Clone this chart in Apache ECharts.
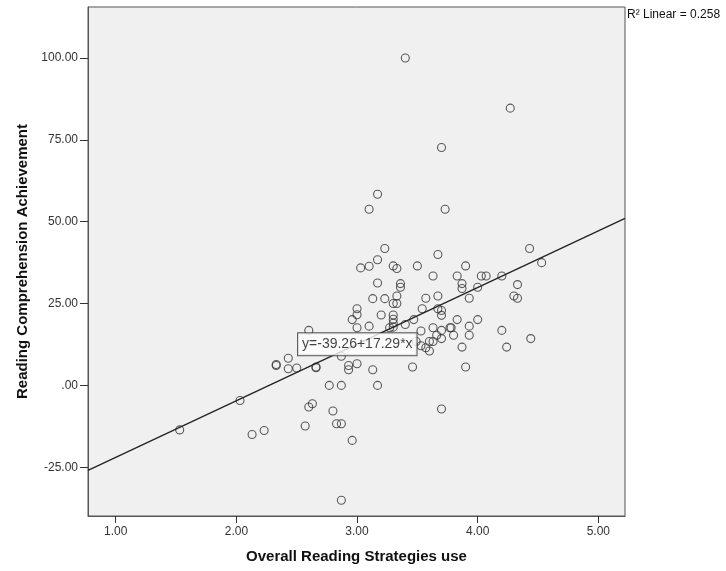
<!DOCTYPE html>
<html>
<head>
<meta charset="utf-8">
<script src="https://cdn.jsdelivr.net/npm/echarts@6/dist/echarts.min.js"></script>
<style>html,body{margin:0;padding:0;background:#fff}#chart{width:726px;height:571px}</style>
</head>
<body>
<div id="chart"></div>
<script>
// Overall Reading Strategies use (x) and Reading Comprehension Achievement (y)
const strategyUse = [
  3.40, 4.27, 3.70, 3.17, 3.10, 3.73,
  3.23, 3.03, 3.10, 3.17, 3.30, 3.33, 3.50, 3.67, 3.90, 3.63, 3.83, 4.03, 4.07, 4.20,
  4.43, 4.53, 3.17, 3.36, 3.36, 3.87, 3.87, 4.33, 4.00, 4.30, 4.33, 3.33, 3.13, 3.23,
  3.30, 3.33, 3.57, 3.67, 3.93, 3.00, 3.00, 2.96, 3.20, 3.30, 3.30, 3.54, 3.67, 3.70,
  3.70, 3.40, 3.47, 3.30, 3.27, 3.30, 3.10, 3.00, 2.60, 3.53, 3.63, 3.77, 3.78, 3.83,
  4.00, 3.93, 3.93, 3.80, 3.70, 3.66, 3.70, 3.63, 3.60, 3.57, 3.60, 3.53, 3.49, 4.20,
  4.44, 4.24, 3.87, 3.90, 3.46, 3.70, 3.13, 3.17, 3.00, 2.93, 2.93, 2.87, 2.77, 2.87,
  2.66, 2.63, 2.60, 2.80, 2.57, 2.83, 2.87,
  2.43, 2.33, 2.33, 2.43, 2.50, 2.66, 2.03, 1.53, 2.13, 2.23, 2.96, 2.87
];
const achievement = [
  100.0, 84.7, 72.7, 58.4, 53.8, 53.8,
  41.8, 35.9, 36.4, 38.4, 36.5, 35.7, 36.5, 40.0, 36.5, 33.4, 33.4, 33.4, 33.4, 33.4,
  41.8, 37.5, 31.3, 31.1, 30.0, 31.1, 29.6, 30.8, 30.0, 27.3, 26.6, 27.3, 26.5, 26.5,
  25.0, 25.0, 26.6, 27.3, 26.6, 23.4, 21.6, 20.1, 21.5, 21.5, 20.2, 23.4, 23.4, 22.9,
  21.4, 18.6, 20.1, 19.0, 17.6, 17.8, 18.1, 17.6, 16.8, 16.6, 17.6, 17.6, 17.6, 20.1,
  20.1, 18.1, 15.3, 15.3, 16.8, 15.3, 14.3, 13.4, 13.4, 11.5, 10.5, 12.1, 13.4, 16.8,
  14.3, 11.7, 11.7, 5.6, 5.6, -7.2, 4.8, 0.0, 6.6, 6.1, 4.8, 8.9, 0.0, 0.0,
  5.4, -5.6, -6.6, -7.8, -12.4, -11.7, -11.7,
  8.3, 6.1, 6.4, 5.1, 5.3, 5.6, -4.6, -13.6, -15.0, -13.8, -16.8, -35.1
];
// Fit line (from the chart's annotation)
const fitIntercept = -39.26;
const fitSlope = 17.29;
const rSquared = 0.258;
const xTicks = [1, 2, 3, 4, 5];
const yTicks = [-25, 0, 25, 50, 75, 100];
const xRange = [0.77, 5.221];
const yRange = [-39.9, 115.6];
const equationAnchor = [2.511, 12.6];

const points = strategyUse.map((x, i) => [x, achievement[i]]);
const fitLine = xRange.map(x => [x, fitIntercept + fitSlope * x]);
const fmt = v => (v === 0 ? '.00' : v.toFixed(2));
const FONT = 'Arial, "Liberation Sans", sans-serif';

const chart = echarts.init(document.getElementById('chart'), null, {renderer: 'canvas'});
chart.setOption({
  animation: false,
  backgroundColor: '#ffffff',
  grid: {
    left: 88, right: 101, top: 7, bottom: 55,
    show: true, backgroundColor: '#f0f0f0', borderColor: '#555', borderWidth: 1
  },
  xAxis: {
    type: 'value', min: xRange[0], max: xRange[1],
    splitLine: {show: false},
    axisLine: {show: true, onZero: false, lineStyle: {color: '#555', width: 1}},
    axisTick: {show: true, customValues: xTicks, length: 7, lineStyle: {color: '#333'}},
    axisLabel: {customValues: xTicks, formatter: fmt, margin: 10, color: '#333', fontSize: 12, fontFamily: FONT},
    name: 'Overall Reading Strategies use', nameLocation: 'middle', nameGap: 33,
    nameTextStyle: {fontSize: 15, fontWeight: 'bold', color: '#111', fontFamily: FONT}
  },
  yAxis: {
    type: 'value', min: yRange[0], max: yRange[1],
    splitLine: {show: false},
    axisLine: {show: true, onZero: false, lineStyle: {color: '#555', width: 1}},
    axisTick: {show: true, customValues: yTicks, length: 8, lineStyle: {color: '#333'}},
    axisLabel: {customValues: yTicks, formatter: fmt, margin: 10, color: '#333', fontSize: 12, fontFamily: FONT},
    name: 'Reading Comprehension Achievement', nameLocation: 'middle', nameGap: 57,
    nameTextStyle: {fontSize: 15, fontWeight: 'bold', color: '#111', fontFamily: FONT}
  },
  graphic: [{
    type: 'text', left: 627, top: 9,
    style: {text: 'R\u00B2 Linear = ' + rSquared, fill: '#111', font: '12px ' + FONT}
  }],
  series: [
    {
      type: 'scatter', data: points, symbol: 'circle', symbolSize: 8,
      itemStyle: {color: 'rgba(0,0,0,0)', borderColor: '#333', borderWidth: 1.1},
      z: 3
    },
    {
      type: 'line', data: fitLine, symbol: 'none', clip: true,
      lineStyle: {color: '#222', width: 1.3}, z: 4
    },
    {
      type: 'scatter', data: [equationAnchor], symbolSize: 0, z: 5,
      label: {
        show: true, position: 'right', distance: 0,
        formatter: 'y=' + fitIntercept + '+' + fitSlope + '*x',
        backgroundColor: '#ffffff', borderColor: '#333', borderWidth: 1,
        padding: [4, 4, 4, 4], color: '#111', fontSize: 14, fontFamily: FONT
      }
    }
  ]
});
</script>
</body>
</html>
